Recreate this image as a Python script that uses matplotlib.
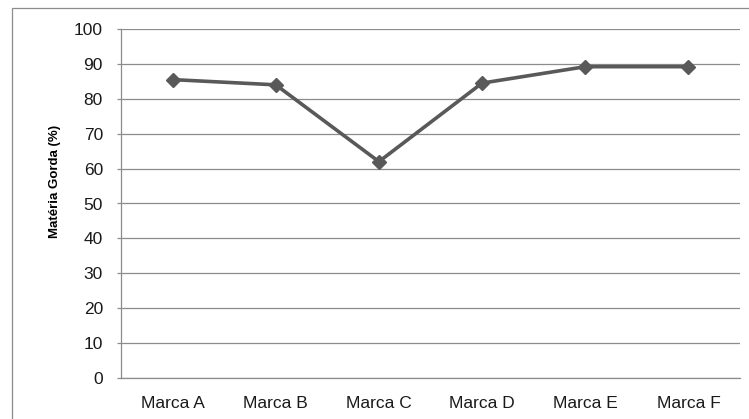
import matplotlib
matplotlib.use("Agg")
import matplotlib.pyplot as plt
from matplotlib.patches import Rectangle

# fat content per brand
brands = ["Marca A", "Marca B", "Marca C", "Marca D", "Marca E", "Marca F"]
fat_pct = [85.5, 84.0, 62.0, 84.5, 89.2, 89.2]
y_ticks = [0, 10, 20, 30, 40, 50, 60, 70, 80, 90, 100]

W, H = 749, 419
plt.rcParams['font.family'] = ['Liberation Sans', 'DejaVu Sans']

fig = plt.figure(figsize=(W / 100, H / 100), dpi=100)
ax = fig.add_axes([121 / W, 1 - 378 / H, (740 - 121) / W, (378 - 29) / H])

grid_col = "#8c8c8c"
line_col = "#595959"

x = list(range(len(brands)))
ax.plot(x, fat_pct, color=line_col, lw=2.6, marker="D", markersize=7,
        markerfacecolor=line_col, markeredgecolor=line_col, zorder=3)

ax.set_xlim(-0.5, len(brands) - 0.5)
ax.set_ylim(0, 100)
ax.set_yticks(y_ticks)
ax.set_xticks(x)
ax.set_xticklabels(brands)
ax.yaxis.grid(True, color=grid_col, lw=0.9)
ax.set_axisbelow(True)

for side in ("top", "right"):
    ax.spines[side].set_visible(False)
for side in ("left", "bottom"):
    ax.spines[side].set_color(grid_col)
    ax.spines[side].set_linewidth(0.9)

ax.tick_params(axis="y", length=3, width=0.9, color=grid_col, pad=10,
               labelsize=12.5, labelcolor="#1a1a1a")
ax.tick_params(axis="x", length=0, pad=13, labelsize=12.5, labelcolor="#1a1a1a")

fig.text(55 / W, 1 - 181 / H, "Matéria Gorda (%)", rotation=90,
         ha="center", va="center", fontsize=9.5, fontweight="bold")

# chart frame
fig.patches.append(Rectangle((12 / W, -0.1), 2, 1.1 - 8 / H, transform=fig.transFigure,
                             fill=False, edgecolor=grid_col, lw=0.9))

fig.savefig("out.png", dpi=100)
